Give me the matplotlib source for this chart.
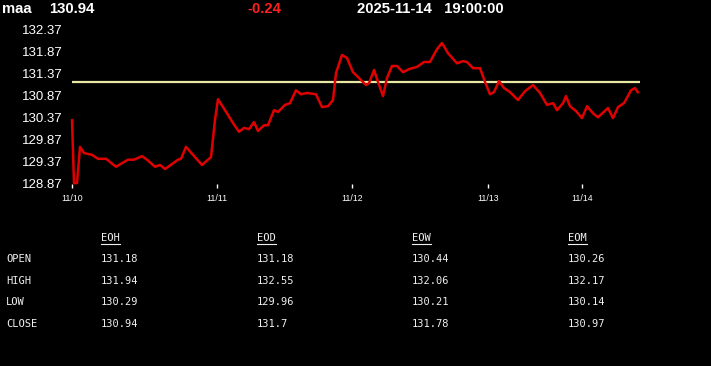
import matplotlib
matplotlib.use('Agg')
import matplotlib.pyplot as plt
from matplotlib.lines import Line2D

# header
symbol = 'maa'
last_price = '130.94'
change = '-0.24'
timestamp = '2025-11-14   19:00:00'

# price series (x = bar index, y = price)
t = [0, 0.4, 1.0, 1.6, 2.4, 4.0, 5.2, 6.8, 8.8, 11.2, 12.4, 14.0, 15.0, 16.6,
     17.6, 18.6, 20.0, 21.2, 21.8, 22.8, 24.2, 26.0, 27.2, 27.8, 28.6, 29.2,
     30.6, 32.2, 33.4, 34.4, 35.4, 36.4, 37.2, 38.4, 39.2, 40.4, 41.2, 42.6,
     43.6, 44.8, 45.8, 47.0, 48.8, 50.0, 51.2, 52.2, 52.8, 54.0, 55.0, 56.2,
     57.2, 58.8, 59.4, 60.4, 61.2, 62.2, 63.0, 64.0, 65.0, 66.2, 67.4, 69.0,
     70.4, 71.6, 73.0, 74.0, 75.2, 77.0, 78.2, 79.0, 80.2, 81.6, 82.6, 83.6,
     84.4, 85.4, 86.4, 87.6, 89.2, 90.6, 92.2, 93.6, 95.0, 96.2, 97.0, 98.2,
     98.8, 99.6, 100.8, 102.0, 103.0, 104.2, 105.2, 107.2, 108.2, 109.2,
     110.4, 111.8, 112.6, 113.2]
price = [130.32, 128.89, 128.89, 129.71, 129.57, 129.53, 129.44, 129.44, 129.26,
         129.42, 129.42, 129.50, 129.42, 129.26, 129.30, 129.21, 129.32, 129.42,
         129.44, 129.71, 129.53, 129.30, 129.42, 129.48, 130.32, 130.79, 130.54,
         130.25, 130.05, 130.14, 130.11, 130.27, 130.07, 130.20, 130.20, 130.54,
         130.50, 130.66, 130.70, 130.99, 130.90, 130.93, 130.90, 130.61, 130.63,
         130.77, 131.38, 131.79, 131.72, 131.40, 131.29, 131.11, 131.15, 131.45,
         131.18, 130.86, 131.27, 131.54, 131.54, 131.40, 131.47, 131.52, 131.63,
         131.63, 131.92, 132.06, 131.83, 131.60, 131.65, 131.63, 131.49, 131.49,
         131.18, 130.90, 130.95, 131.20, 131.04, 130.95, 130.77, 130.97, 131.11,
         130.93, 130.66, 130.70, 130.54, 130.70, 130.86, 130.63, 130.52, 130.36,
         130.63, 130.47, 130.38, 130.59, 130.36, 130.61, 130.70, 130.99, 131.04,
         130.94]
ref_level = 131.18
x_end = 113.6

tick_pos = [0, 29, 56, 83.2, 102]
tick_labels = ['11/10', '11/11', '11/12', '11/13', '11/14']
y_ticks = [128.87, 129.37, 129.87, 130.37, 130.87, 131.37, 131.87, 132.37]

# summary table
row_names = ['OPEN', 'HIGH', 'LOW', 'CLOSE']
col_names = ['EOH', 'EOD', 'EOW', 'EOM']
eoh = ['131.18', '131.94', '130.29', '130.94']
eod = ['131.18', '132.55', '129.96', '131.7']
eow = ['130.44', '132.06', '130.21', '131.78']
eom = ['130.26', '132.17', '130.14', '130.97']

W, H = 711, 366
fig = plt.figure(figsize=(W / 100, H / 100), dpi=100, facecolor='black')

# chart area
ax = fig.add_axes([72 / W, 1 - 184 / H, (640 - 72) / W, (184 - 29.3) / H])
ax.set_facecolor('black')
ax.plot(t, price, color='#e00000', lw=1.8, clip_on=False, zorder=3,
        solid_joinstyle='round', solid_capstyle='round')
ax.axhline(ref_level, color='#e8e8a4', lw=1.6, zorder=2)
ax.set_xlim(0, x_end)
ax.set_ylim(y_ticks[0], y_ticks[-1])
for s in ax.spines.values():
    s.set_visible(False)
ax.set_yticks(y_ticks)
ax.set_yticklabels(['%.2f' % v for v in y_ticks], family='Liberation Sans',
                   fontsize=9.5, color='white')
ax.tick_params(axis='y', length=0, pad=7)
ax.set_xticks(tick_pos)
ax.set_xticklabels(tick_labels, family='Liberation Sans', fontsize=6.3,
                   color='white')
ax.tick_params(axis='x', length=3, width=1, color='white', pad=4)

# header line
hy = 1 - 9 / H
hdr = dict(family='Liberation Sans', fontsize=10.7, fontweight='bold', va='center')
fig.text(2 / W, hy, symbol, color='white', **hdr)
fig.text(49 / W, hy, last_price, color='white', **hdr)
fig.text(247 / W, hy, change, color='#ff2020', **hdr)
fig.text(357 / W, hy, timestamp, color='white', **hdr)

# table
mono = dict(family='DejaVu Sans Mono', fontsize=7.5, color='#f0f0f0', va='center')
col_x = [101, 257, 412, 568]
row_y = [259, 281, 302, 324]
fig.canvas.draw()
renderer = fig.canvas.get_renderer()
for cx, name, vals in zip(col_x, col_names, [eoh, eod, eow, eom]):
    txt = fig.text(cx / W, 1 - 238 / H, name, **mono)
    bb = txt.get_window_extent(renderer)
    fig.add_artist(Line2D([bb.x0 / W, bb.x1 / W],
                          [(bb.y0 - 1) / H, (bb.y0 - 1) / H],
                          color='#f0f0f0', lw=0.8))
    for ry, v in zip(row_y, vals):
        fig.text(cx / W, 1 - ry / H, v, **mono)
for ry, r in zip(row_y, row_names):
    fig.text(6 / W, 1 - ry / H, r, **mono)

fig.savefig('out.png', dpi=100, facecolor='black')
